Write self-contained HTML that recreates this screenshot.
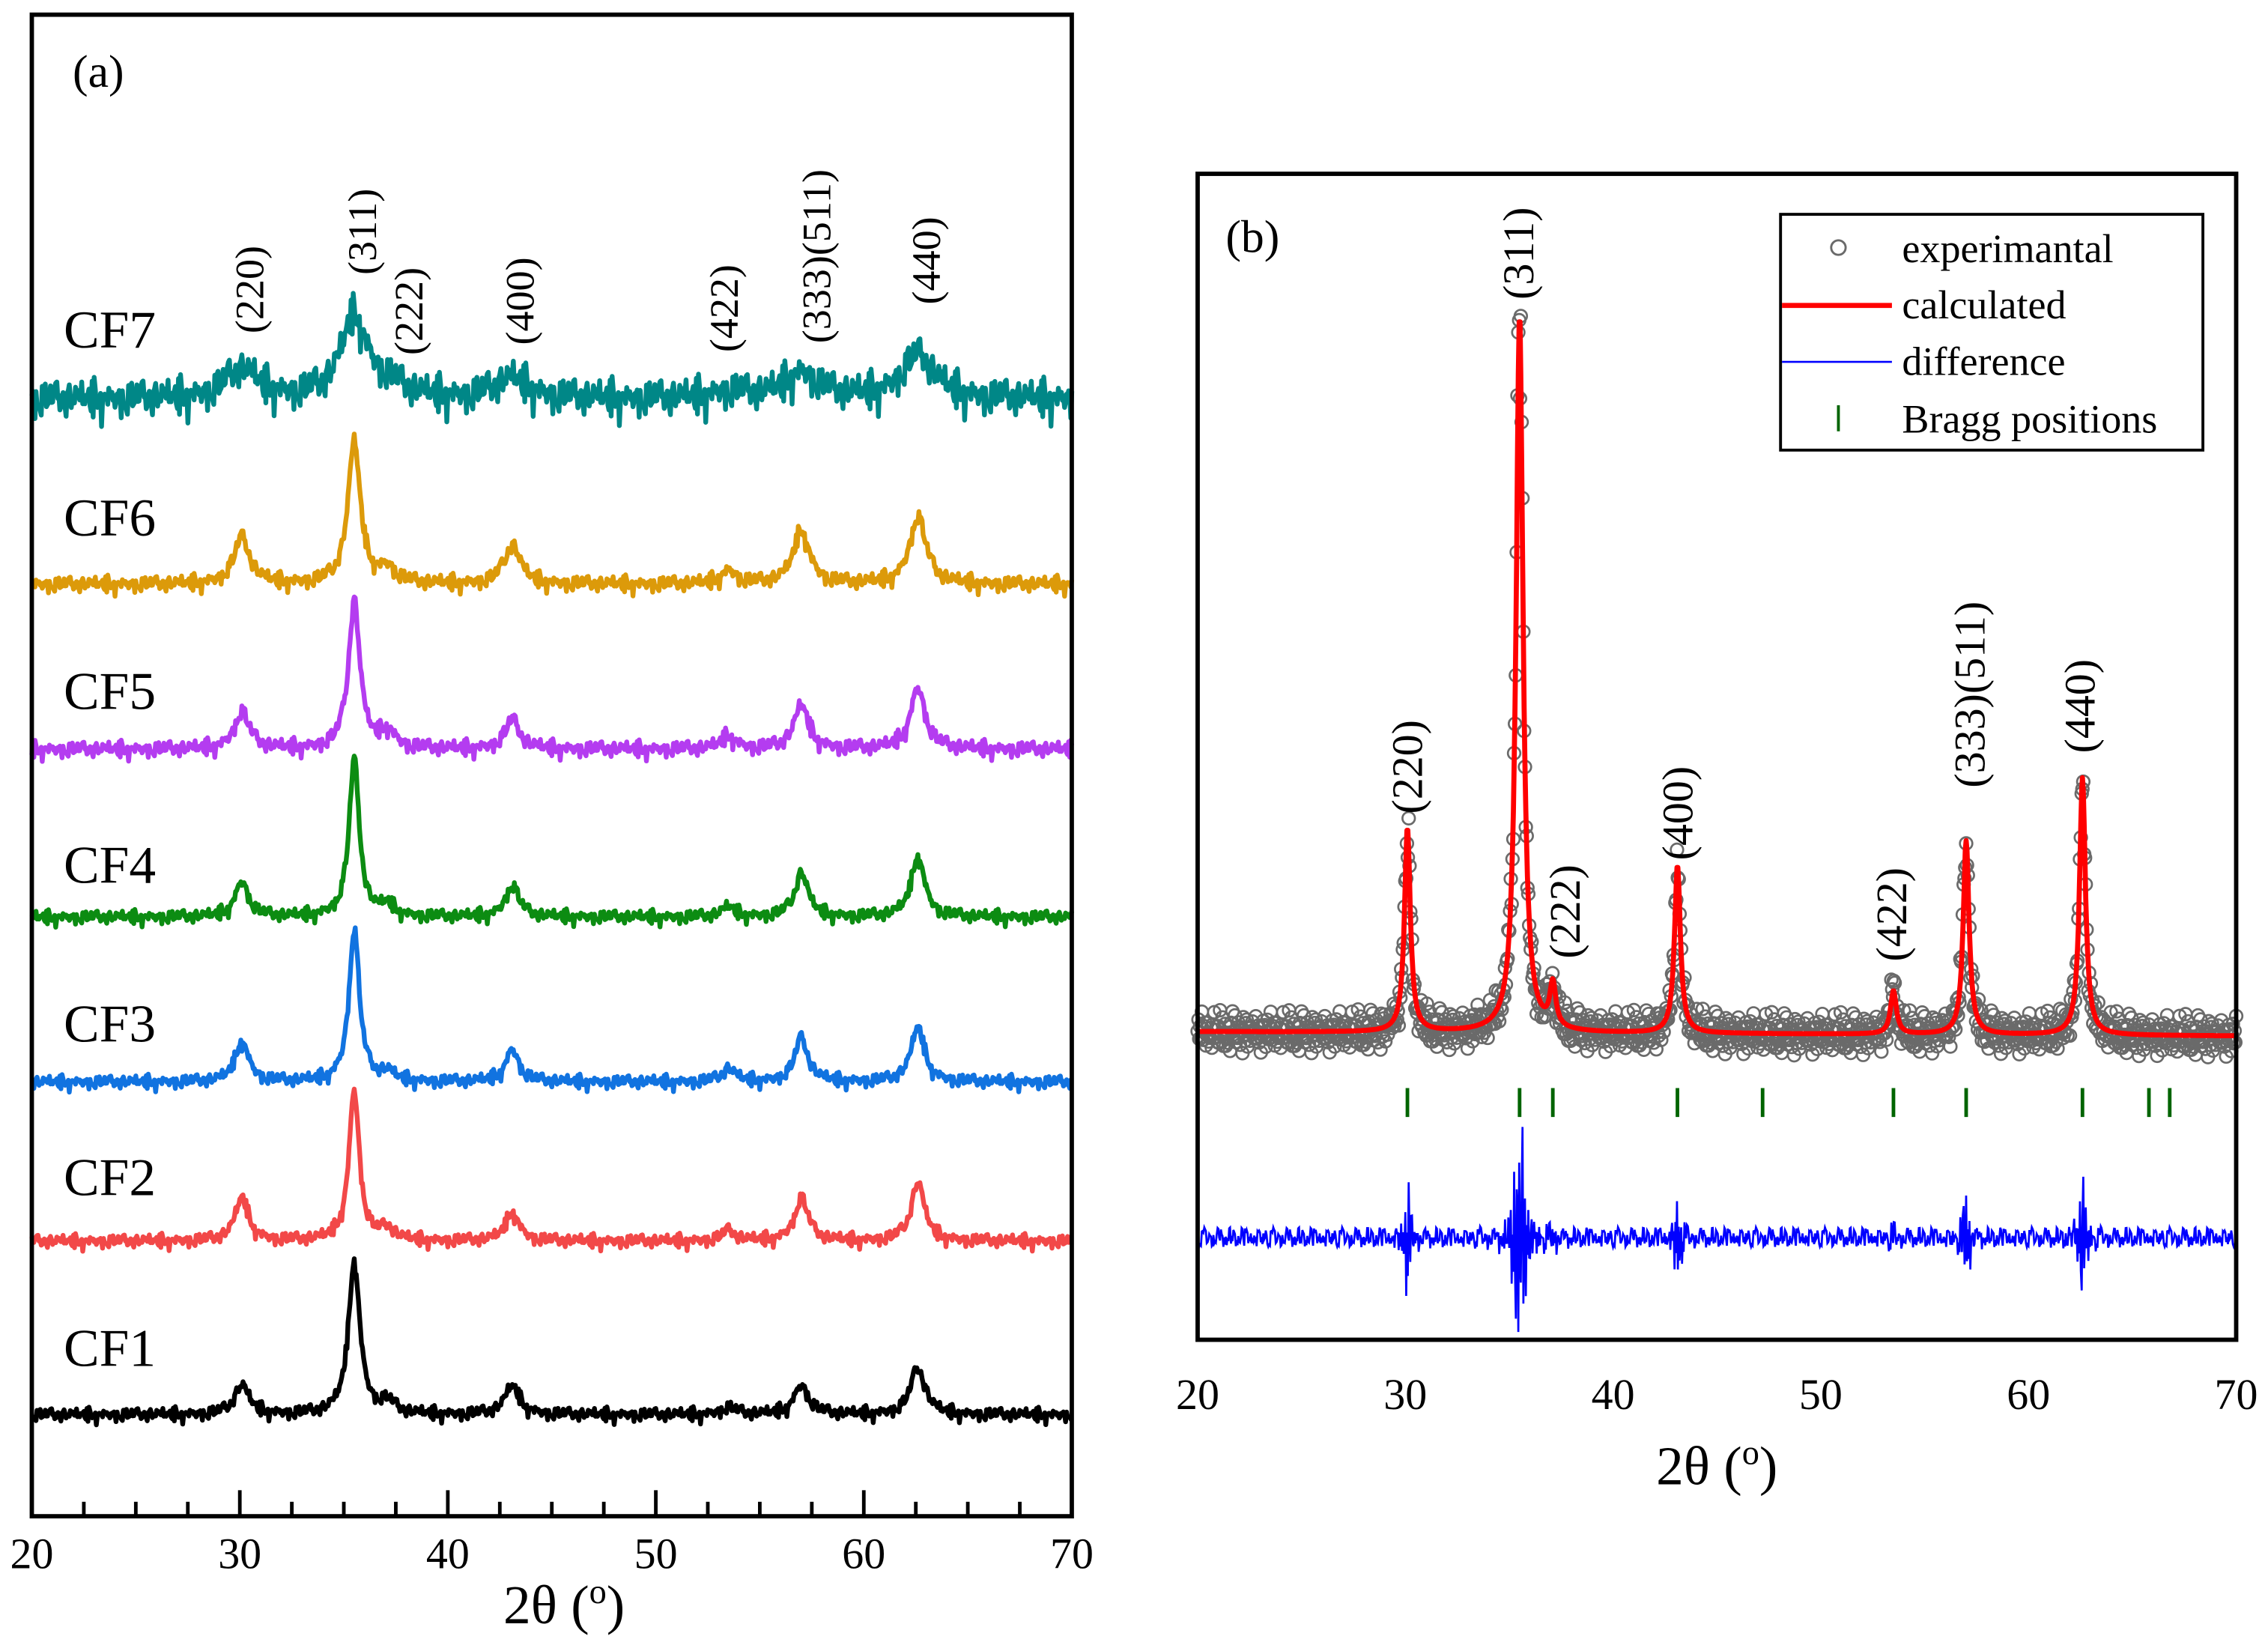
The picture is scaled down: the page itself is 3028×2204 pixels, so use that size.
<!DOCTYPE html>
<html><head><meta charset="utf-8"><style>
html,body{margin:0;padding:0;background:#fff}
svg{display:block}
text{font-family:"Liberation Serif",serif;fill:#000}
</style></head><body>
<svg id="fig" width="3028" height="2204" viewBox="0 0 1568 1141" xmlns="http://www.w3.org/2000/svg">
<g id="pa"></g>
<g id="pb"></g>
</svg>
<script>
// ---------- data ----------
const hkl = ["(220)","(311)","(222)","(400)","(422)","(333)(511)","(440)"];
const peakPos = [30.1, 35.5, 37.1, 43.1, 53.5, 57.0, 62.6];
const seriesNames = ["CF1","CF2","CF3","CF4","CF5","CF6","CF7"];
const seriesColors = ["#000000","#f24848","#1173e0","#0c8c12","#b43cf0","#dc9a0a","#008787"];
const baselines = [978, 858, 748, 634, 518, 404, 276];
const hCF1 = [20,106,8,20,5,20,32];
const hCF2 = [30,104,8,20,7,30,40];
const hCF3 = [28,106,6,22,9,30,38];
const hCF4 = [24,108,8,22,7,30,42];
const hCF5 = [26,102,12,20,9,30,42];
const hCF6 = [32,98,10,27,9,37,47];
const hCF7 = [20,56,8,14,5,18,30];
const seriesHeights = [hCF1,hCF2,hCF3,hCF4,hCF5,hCF6,hCF7];
const seriesWidths = [0.33,0.3,0.3,0.3,0.33,0.36,0.75];
const noiseAmp = [5,5,5,5,6,6,14];
const xTicks = [20,30,40,50,60,70];
// panel b
const bHeights = [141,496,30,116,30,134,178];
const braggPos = [30.1,35.5,37.1,43.1,47.2,53.5,57.0,62.6,65.8,66.8];
const noise = [0.3,-0.7,0.9,-0.2,0.5,-0.9,0.1,0.8,-0.4,-0.6,0.7,0.2,-0.8,0.4,-0.1,0.6,-0.5,0.95,-0.3,0.05,
 -0.85,0.45,0.15,-0.65,0.75,-0.15,0.35,-0.95,0.55,0.25,-0.45,0.85,-0.05,-0.75,0.65,0.1,-0.35,0.5,-0.55,0.9,
 -0.25,0.2,-0.9,0.6,0.0,-0.6,0.8,-0.1,0.4,-0.8,0.3,0.7,-0.45,-0.2,0.95,-0.7,0.15,0.5,-0.35,-0.95,0.65,0.05,
 -0.5,0.85,-0.15,0.25,-0.75,0.45,0.75,-0.3,-0.85,0.35,0.1,-0.6,0.55,-0.05,0.9,-0.4,0.2,-0.65,0.6,-0.25,0.8];

const NS="http://www.w3.org/2000/svg";
function mk(tag, attrs, parent){const e=document.createElementNS(NS,tag);for(const k in attrs)e.setAttribute(k,attrs[k]);parent.appendChild(e);return e;}
function lor(x,c,w){const d=(x-c)/w;return 1/(1+d*d);}

// ---------- panel a ----------
const pa=document.getElementById('pa');
const ax0=22, ax1=741, ay0=10, ay1=1048;
const xa=v=>ax0+(v-20)/50*(ax1-ax0);
for(let s=0;s<7;s++){
  let d="";let k=s*13;
  for(let t=20;t<=70.001;t+=0.05){
    let y=0;
    for(let p=0;p<7;p++){const w=(p==1?seriesWidths[s]:seriesWidths[s]*1.3);y+=seriesHeights[s][p]*lor(t,peakPos[p],w);}
    const n=noise[(k*3)%noise.length]*0.6+noise[(k*11+5)%noise.length]*0.4;
    y+=n*noiseAmp[s]*(noise[(k*17+2)%noise.length]>0.6?1.8:1);
    k++;
    d+=(d?"L":"M")+xa(t).toFixed(1)+","+(baselines[s]-y).toFixed(1);
  }
  const pl=mk('path',{d:d,fill:'none',stroke:seriesColors[s],'stroke-width':3.3,'stroke-linejoin':'round'},pa);
  
  
  const lb=mk('text',{x:44,y:[944,826,720,610,490,370,240][s],'font-size':37},pa);
  lb.textContent=seriesNames[s];
  
  
}
const fa=mk('rect',{x:ax0,y:ay0,width:ax1-ax0,height:ay1-ay0,fill:'none',stroke:'#000','stroke-width':3},pa);


for(let v=20;v<=70;v+=2.5){
  const maj=(v%10===0);
  const tk=mk('line',{x1:xa(v),x2:xa(v),y1:ay1,y2:ay1-(maj?18:10),stroke:'#000','stroke-width':2.5},pa);
  
  
}
xTicks.forEach(v=>{const t=mk('text',{x:xa(v),y:1084,'font-size':30,'text-anchor':'middle'},pa);t.textContent=v;
  
  });
const laPos=[[182,200],[260,160],[292,215],[369,208],[510,213],[574,177],[650,180]];
hkl.forEach((h,i)=>{const t=mk('text',{x:0,y:0,'font-size':28,'text-anchor':'middle',transform:`translate(${laPos[i][0]},${laPos[i][1]}) rotate(-90)`},pa);t.textContent=h;
  
  });
</script>
<script>
(function(){
const pa=document.getElementById('pa'), pb=document.getElementById('pb');
function T(p,x,y,fs,html,name){const t=document.createElementNS(NS,'text');t.setAttribute('x',x);t.setAttribute('y',y);t.setAttribute('font-size',fs);t.setAttribute('text-anchor','middle');t.innerHTML=html;p.appendChild(t);

return t;}
T(pa,390,1122,38,'2θ (<tspan font-size="24" dy="-14">o</tspan><tspan dy="14">)</tspan>','x-axis-title-a');
T(pa,68,60,32,'(a)','panel-a-tag');
T(pb,1187,1026,38,'2θ (<tspan font-size="24" dy="-14">o</tspan><tspan dy="14">)</tspan>','x-axis-title-b');
T(pb,866,174,32,'(b)','panel-b-tag');
})();

// ---------- panel b ----------
const pb=document.getElementById('pb');
const bx0=828,bx1=1546,by0=120,by1=926;
const xb=v=>bx0+(v-20)/50*(bx1-bx0);
const baseB=t=>713+(t-20)*0.06;
function calc(t){let y=0;for(let p=0;p<7;p++)y+=bHeights[p]*lor(t,peakPos[p],p==1?0.2:0.17);return y;}
let cd="", df="";
let k=0;
const gE=mk('g',{},pb);


for(let t=20;t<=70.001;t+=0.04){
  const c=calc(t);
  const n1=noise[k%noise.length], n2=noise[(k*7+3)%noise.length], n3=noise[(k*13+1)%noise.length];
  const yc=baseB(t)-c;
  cd+=(cd?"L":"M")+xb(t).toFixed(1)+","+yc.toFixed(1);
  const ye=yc+n1*11+n3*5+n2*c*0.12;
  mk('circle',{cx:xb(t).toFixed(1),cy:ye.toFixed(1),r:4.3,fill:'none',stroke:'#6a6a6a','stroke-width':1.4},gE);
  const dv=855 + n2*7 + n1*Math.min(c,250)*0.3;
  df+=(df?"L":"M")+xb(t).toFixed(1)+","+dv.toFixed(1);
  k++;
}
const cl=mk('path',{d:cd,fill:'none',stroke:'#ff0000','stroke-width':3.5,'stroke-linejoin':'round'},pb);


const dl=mk('path',{d:df,fill:'none',stroke:'#0000ff','stroke-width':1.4},pb);


braggPos.forEach(v=>{const b=mk('line',{x1:xb(v),x2:xb(v),y1:752,y2:772,stroke:'#006400','stroke-width':2.5},pb);
  
  });
const fb=mk('rect',{x:bx0,y:by0,width:bx1-bx0,height:by1-by0,fill:'none',stroke:'#000','stroke-width':3},pb);


xTicks.forEach(v=>{const t=mk('text',{x:xb(v),y:974,'font-size':30,'text-anchor':'middle'},pb);t.textContent=v;
  
  });
const lbPos=[[983,530],[1060,175],[1092,630],[1170,562],[1318,632],[1372,480],[1448,488]];
hkl.forEach((h,i)=>{const t=mk('text',{x:0,y:0,'font-size':30,'text-anchor':'middle',transform:`translate(${lbPos[i][0]},${lbPos[i][1]}) rotate(-90)`},pb);t.textContent=h;
  
  });
const lg=mk('g',{},pb);


mk('rect',{x:1231,y:148,width:292,height:163,fill:'#fff',stroke:'#000','stroke-width':2},lg);
mk('circle',{cx:1271,cy:171,r:5,fill:'none',stroke:'#6a6a6a','stroke-width':1.5},lg);
mk('line',{x1:1232,x2:1308,y1:211,y2:211,stroke:'#ff0000','stroke-width':3.5},lg);
mk('line',{x1:1232,x2:1308,y1:250,y2:250,stroke:'#0000ff','stroke-width':1.4},lg);
mk('line',{x1:1271,x2:1271,y1:280,y2:298,stroke:'#006400','stroke-width':2},lg);
[["experimantal",181],["calculated",220],["difference",259],["Bragg positions",299]].forEach(a=>{
  const t=mk('text',{x:1315,y:a[1],'font-size':28},lg);t.textContent=a[0];
  
  });
</script>
</body></html>
